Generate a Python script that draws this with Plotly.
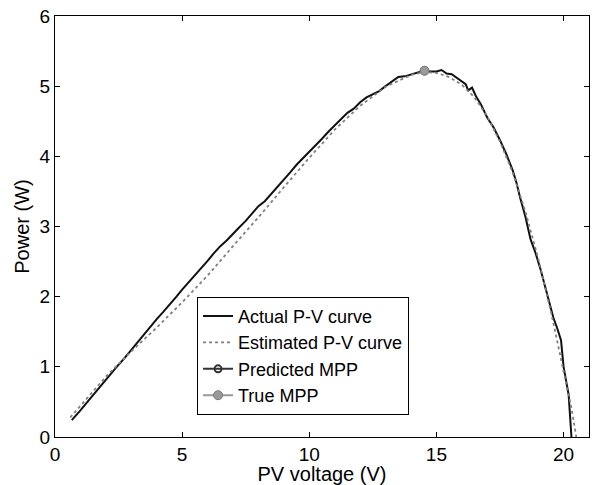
import plotly.graph_objects as go

# Actual measured P-V curve (V, W)
actual_v = [0.66, 0.85, 1.0, 1.25, 1.5, 1.75, 2.0, 2.25, 2.5, 2.75, 3.0, 3.25, 3.5, 3.75, 4.0,
            4.25, 4.5, 4.75, 5.0, 5.25, 5.5, 5.75, 6.0, 6.25, 6.5, 6.75, 7.0, 7.25, 7.5, 7.75,
            8.0, 8.25, 8.5, 8.75, 9.0, 9.25, 9.5, 9.75, 10.0, 10.25, 10.5, 10.75, 11.0, 11.25,
            11.5, 11.75, 12.0, 12.25, 12.5, 12.75, 13.0, 13.25, 13.5, 13.75, 14.0, 14.25, 14.5,
            14.75, 15.0, 15.2, 15.4, 15.6, 15.8, 16.0, 16.15, 16.25, 16.4, 16.55, 16.75, 17.0,
            17.25, 17.5, 17.75, 18.0, 18.15, 18.3, 18.5, 18.7, 18.9, 19.1, 19.25, 19.4, 19.6,
            19.75, 19.9, 20.0, 20.1, 20.2, 20.31]
actual_p = [0.24, 0.31, 0.38, 0.49, 0.60, 0.70, 0.82, 0.92, 1.03, 1.13, 1.24, 1.36, 1.47, 1.57, 1.68,
            1.78, 1.88, 1.99, 2.10, 2.20, 2.31, 2.40, 2.51, 2.62, 2.72, 2.80, 2.90, 2.99, 3.08, 3.19,
            3.29, 3.36, 3.46, 3.57, 3.67, 3.77, 3.88, 3.97, 4.07, 4.15, 4.25, 4.35, 4.44, 4.52,
            4.62, 4.68, 4.77, 4.84, 4.89, 4.93, 5.00, 5.07, 5.13, 5.14, 5.17, 5.19, 5.22,
            5.21, 5.21, 5.23, 5.18, 5.17, 5.12, 5.08, 5.03, 4.94, 4.98, 4.86, 4.74, 4.55,
            4.41, 4.23, 4.03, 3.80, 3.62, 3.40, 3.14, 2.82, 2.62, 2.38, 2.17, 1.95, 1.70,
            1.55, 1.38, 1.00, 0.80, 0.60, 0.00]

# Estimated P-V curve
est_v = [0.6, 1.0, 2.0, 3.0, 4.0, 5.0, 6.0, 7.0, 8.0, 9.0, 10.0, 11.0, 12.0, 13.0, 14.0, 14.5,
         15.0, 15.5, 16.0, 16.5, 17.0, 17.5, 18.0, 18.5, 19.0, 19.5, 20.0, 20.3, 20.5]
est_p = [0.28, 0.45, 0.86, 1.22, 1.56, 1.92, 2.30, 2.72, 3.13, 3.56, 3.98, 4.38, 4.72, 4.99, 5.16, 5.20,
         5.19, 5.13, 5.02, 4.84, 4.57, 4.21, 3.77, 3.21, 2.55, 1.79, 0.96, 0.43, 0.00]

# MPP
pred_mpp_v = [14.53]
pred_mpp_p = [5.22]
true_mpp_v = [14.53]
true_mpp_p = [5.22]

x_ticks = [0, 5, 10, 15, 20]
y_ticks = [0, 1, 2, 3, 4, 5, 6]

fig = go.Figure()
fig.add_trace(go.Scatter(x=actual_v, y=actual_p, mode="lines", name="Actual P-V curve",
                         line=dict(color="#111111", width=2)))
fig.add_trace(go.Scatter(x=est_v, y=est_p, mode="lines", name="Estimated P-V curve",
                         line=dict(color="#808080", width=1.8, dash="dot")))
fig.add_trace(go.Scatter(x=pred_mpp_v, y=pred_mpp_p, mode="lines+markers", name="Predicted MPP",
                         line=dict(color="#333333", width=2),
                         marker=dict(symbol="circle-open", size=7, color="#333333", line=dict(width=2))))
fig.add_trace(go.Scatter(x=true_mpp_v, y=true_mpp_p, mode="lines+markers", name="True MPP",
                         line=dict(color="#999999", width=2),
                         marker=dict(symbol="circle", size=9, color="#999999",
                                     line=dict(color="#777777", width=1))))

axis_common = dict(showline=True, linecolor="black", linewidth=1, mirror="ticks",
                   ticks="inside", ticklen=5, tickcolor="black", showgrid=False, zeroline=False,
                   automargin=False, tickfont=dict(size=19, color="black"))
fig.update_xaxes(range=[0, 21], tickvals=x_ticks, **axis_common,
                 title=dict(text="PV voltage (V)", font=dict(size=20, color="black"), standoff=0))
fig.update_yaxes(range=[0, 6], tickvals=y_ticks, **axis_common,
                 title=dict(text="Power (W)", font=dict(size=20, color="black"), standoff=4))

fig.update_layout(
    width=597, height=485,
    margin=dict(l=55, r=8, t=16, b=48),
    plot_bgcolor="white", paper_bgcolor="white",
    font=dict(family="Liberation Sans, Arial, sans-serif", color="black"),
    legend=dict(x=0.266, y=0.333, xanchor="left", yanchor="top",
                bordercolor="black", borderwidth=1, bgcolor="white",
                font=dict(size=18, color="black"), tracegroupgap=0,
                itemwidth=30),
    showlegend=True,
)

fig.write_html("out.html", config={"displayModeBar": False},
               post_script="document.body.style.margin='0';document.body.style.overflow='hidden';")
